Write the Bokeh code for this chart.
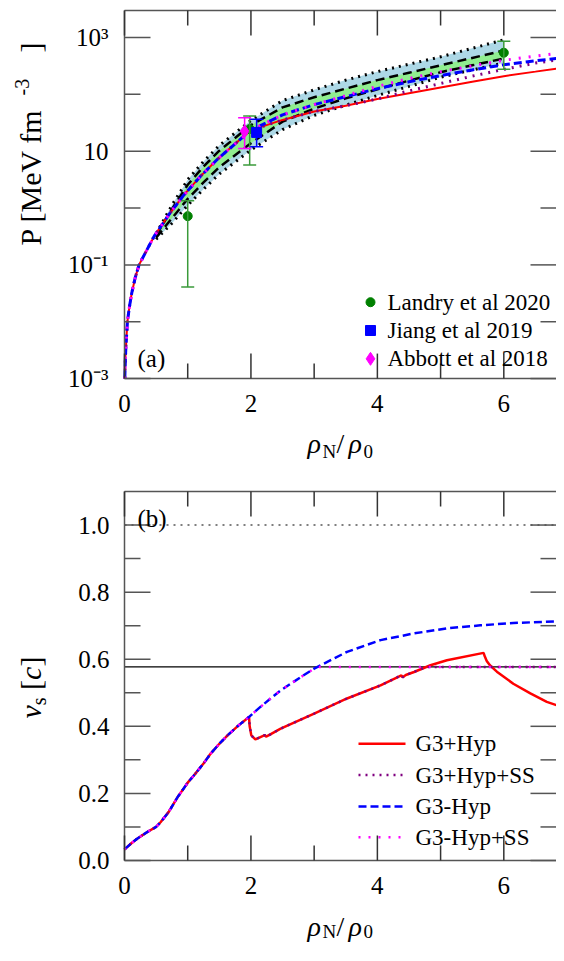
import numpy as np
from bokeh.plotting import figure
from bokeh.models import ColumnDataSource, Label, TeeHead, Whisker
from bokeh.layouts import column
from bokeh.embed import file_html
from bokeh.resources import INLINE

SERIF = "Liberation Serif"

# ---------------- panel (a): pressure vs density ----------------
rho_low = [0.005, 0.015, 0.03, 0.046, 0.08, 0.115, 0.17, 0.23, 0.35, 0.47, 0.7, 0.94, 1.2, 1.47, 1.75, 2.0]
p_low = [0.001, 0.0025, 0.005, 0.010, 0.019, 0.032, 0.060, 0.10, 0.18, 0.32, 0.76, 1.70, 3.6, 7.2, 13.5, 23.4]
rho_high = [2.5, 3.0, 3.5, 4.0, 4.5, 5.0, 5.5, 6.0, 6.5, 7.0]
p_hyp_high = [35.5, 50, 63, 83, 105, 132, 166, 209, 251, 302]
p_hyp_ss_high = [35.5, 50, 63, 83, 115, 155, 209, 275, 355, 427]
p_nohyp_high = [43.6, 66, 91, 126, 166, 214, 269, 331, 389, 447]
p_nohyp_ss_high = [43.6, 66, 95, 138, 190, 251, 316, 398, 468, 550]

# constraint bands
rho_band = [0.5, 0.75, 1.0, 1.25, 1.5, 2.0, 2.5, 3.0, 3.5, 4.0, 4.5, 5.0, 5.5, 6.0]
p_outer_hi = [0.355, 1.12, 3.16, 6.6, 12.6, 34.7, 77.6, 120, 178, 251, 339, 457, 646, 912]
p_inner_hi = [0.331, 0.955, 2.57, 5.37, 10.2, 28.8, 58.9, 89, 126, 178, 240, 324, 437, 589]
p_inner_lo = [0.302, 0.66, 1.45, 2.82, 5.25, 13.8, 33.1, 56.2, 85, 123, 174, 245, 324, 427]
p_outer_lo = [0.282, 0.54, 1.12, 2.14, 3.98, 10.5, 24.0, 42.7, 64.6, 95.5, 138, 200, 269, 355]

# observations
landry_rho = [1.0, 1.98, 6.0]
landry_p = [0.72, 24.5, 540]
landry_lo = [0.041, 5.7, 275]
landry_hi = [1.35, 41.7, 860]
jiang_rho = [2.09]
jiang_p = [21.4]
jiang_lo = [12.0]
jiang_hi = [36.3]
abbott_rho = [1.90]
abbott_p = [22.4]
abbott_lo = [11.2]
abbott_hi = [38.9]

# ---------------- panel (b): speed of sound ----------------
vs_rho_low = [0.0, 0.1, 0.2, 0.36, 0.5, 0.57, 0.7, 0.84, 1.0, 1.1, 1.25, 1.36, 1.5, 1.63, 1.8, 1.97]
vs_low = [0.033, 0.05, 0.065, 0.085, 0.100, 0.114, 0.145, 0.189, 0.232, 0.254, 0.289, 0.318, 0.348, 0.373, 0.402, 0.428]
hyp_rho = [1.98, 2.006, 2.07, 2.15, 2.2, 2.22, 2.24, 2.3, 2.47, 3.0, 3.52, 4.05, 4.38, 4.40, 4.45, 4.58]
hyp_vs = [0.40, 0.373, 0.361, 0.368, 0.372, 0.374, 0.369, 0.375, 0.393, 0.438, 0.483, 0.522, 0.552, 0.546, 0.553, 0.562]
hyp_rho_end = [4.84, 5.10, 5.68, 5.70, 5.73, 5.78, 5.89, 6.15, 6.42, 6.68, 7.0]
hyp_vs_end = [0.582, 0.597, 0.619, 0.608, 0.595, 0.582, 0.563, 0.527, 0.498, 0.473, 0.452]
hyp_ss_rho_end = [4.77, 7.0]
hyp_ss_vs_end = [0.577, 0.577]
nohyp_rho = [2.15, 2.47, 2.79, 3.0, 3.52, 4.05, 4.58, 5.1, 5.63, 6.15, 7.0]
nohyp_vs = [0.458, 0.507, 0.547, 0.572, 0.622, 0.657, 0.677, 0.692, 0.701, 0.708, 0.714]
nohyp_ss_rho_end = [3.05, 7.0]
nohyp_ss_vs_end = [0.577, 0.577]
causal_limit = 1.0
conformal_limit = 0.577

# ticks
x_major = [0, 2, 4, 6]
x_minor = [1, 3, 5]
x_labels = ["0", "2", "4", "6"]
pa_major = [0.001, 0.1, 10, 1000]
pa_minor = [0.01, 1, 100]
pa_labels = ["10\u207b\u00b3", "10\u207b\u00b9", "10", "10\u00b3"]
vb_major = [0.0, 0.2, 0.4, 0.6, 0.8, 1.0]
vb_minor = [0.1, 0.3, 0.5, 0.7, 0.9]
vb_labels = ["0.0", "0.2", "0.4", "0.6", "0.8", "1.0"]

legend_a = ["Landry et al 2020", "Jiang et al 2019", "Abbott et al 2018"]
legend_b = ["G3+Hyp", "G3+Hyp+SS", "G3-Hyp", "G3-Hyp+SS"]

# page geometry (px); each figure's frame fills its whole canvas
W = 556
FRAME_L = 124
PX_X = 440 / 6.96
X_END = (W - FRAME_L) / PX_X
PA_BOTTOM, PA_TOP = 1e-3, 2976.0
PA_DEC = 368 / (np.log10(PA_TOP) - np.log10(PA_BOTTOM))
VB_TOP = 1.1
PX_VB = 369 / VB_TOP
H1 = 478            # page 0..478
H2 = 467            # page 478..945
TICK_C = "#333333"
AXIS_C = "#555555"


def xd(px):
    return (px - FRAME_L) / PX_X


def ya(py):
    return 10 ** (3 - (py - 37) / PA_DEC)


def yb(py):
    return (860 - py) / PX_VB


def pa_py(v):
    return 37 + (3 - np.log10(v)) * PA_DEC


def vb_py(v):
    return 860 - v * PX_VB


def panel(height, y_range, log):
    p = figure(width=W, height=height, x_range=(xd(0), xd(W)), y_range=y_range,
               y_axis_type="log" if log else "linear", output_backend="svg", toolbar_location=None,
               x_axis_location=None, y_axis_location=None, min_border=0)
    p.grid.visible = False
    p.outline_line_color = None
    return p


def text(p, x, y, s, size, style="normal", angle=0, baseline="middle", align="left"):
    p.add_layout(Label(x=x, y=y, text=s, angle=angle, text_font=SERIF, text_font_style=style,
                       text_font_size=size, text_align=align, text_baseline=baseline, text_color="black"))


def xlabel(p, yconv, y_base, y_sub):
    text(p, xd(307), yconv(y_base), "\u03c1", "28px", "italic", baseline="alphabetic")
    text(p, xd(322), yconv(y_sub), "N", "19px", baseline="alphabetic")
    text(p, xd(336), yconv(y_base), "/", "28px", baseline="alphabetic")
    text(p, xd(348), yconv(y_base), "\u03c1", "28px", "italic", baseline="alphabetic")
    text(p, xd(363), yconv(y_sub), "0", "19px", baseline="alphabetic")


def frame_and_ticks(p, y0, y1, up, yt_major, yt_minor):
    # box: left, bottom, top edges
    p.segment([0, 0, 0], [y0, y0, y1], [0, X_END, X_END], [y1, y0, y1], line_color=AXIS_C, line_width=1.5)
    p.segment(x_major, [y0] * 4, x_major, [up(y0, 25)] * 4, line_color=TICK_C, line_width=1.5)
    p.segment(x_minor, [y0] * 3, x_minor, [up(y0, 15)] * 3, line_color=TICK_C, line_width=1.5)
    p.segment(x_major, [y1] * 4, x_major, [up(y1, -25)] * 4, line_color=TICK_C, line_width=1.5)
    p.segment(x_minor, [y1] * 3, x_minor, [up(y1, -15)] * 3, line_color=TICK_C, line_width=1.5)
    n, m = len(yt_major), len(yt_minor)
    p.segment([0] * n, yt_major, [26 / PX_X] * n, yt_major, line_color=AXIS_C, line_width=1.5)
    p.segment([0] * m, yt_minor, [16 / PX_X] * m, yt_minor, line_color=AXIS_C, line_width=1.5)
    p.segment([X_END - 26 / PX_X] * n, yt_major, [X_END] * n, yt_major, line_color=AXIS_C, line_width=1.5)
    p.segment([X_END - 16 / PX_X] * m, yt_minor, [X_END] * m, yt_minor, line_color=AXIS_C, line_width=1.5)


# ---------------- figure (a) ----------------
p1 = panel(H1, (ya(H1), ya(0)), True)

band = ColumnDataSource(dict(x=rho_band, ohi=p_outer_hi, ihi=p_inner_hi, ilo=p_inner_lo, olo=p_outer_lo))
p1.varea(x="x", y1="olo", y2="ohi", source=band, fill_color="#add8e6")
p1.varea(x="x", y1="ilo", y2="ihi", source=band, fill_color="#90ee90")
for col in ("ohi", "olo"):
    p1.line("x", col, source=band, line_color="black", line_width=3, line_dash="2 5")
for col in ("ihi", "ilo"):
    p1.line("x", col, source=band, line_color="black", line_width=2.5, line_dash="9 5")

p1.line(rho_low + rho_high, p_low + p_hyp_high, line_color="red", line_width=2)
p1.line(rho_low + rho_high, p_low + p_hyp_ss_high, line_color="purple", line_width=3, line_dash="2 6")
p1.line(rho_low + rho_high, p_low + p_nohyp_high, line_color="blue", line_width=3, line_dash="8 4")
p1.line(rho_low + rho_high, p_low + p_nohyp_ss_high, line_color="magenta", line_width=3, line_dash="2 8")

obs = [(landry_rho, landry_p, landry_lo, landry_hi, "circle", "#008000", "#3a9a3a", 9),
       (jiang_rho, jiang_p, jiang_lo, jiang_hi, "square", "blue", "blue", 10),
       (abbott_rho, abbott_p, abbott_lo, abbott_hi, "diamond", "magenta", "magenta", 13)]
legend_rows_a = [301.7, 330, 358.3]
for (xs, ys, lo, hi, mk, col, ecol, size), name, row_py in zip(obs, legend_a, legend_rows_a):
    src = ColumnDataSource(dict(x=xs, y=ys, lo=lo, hi=hi))
    p1.add_layout(Whisker(source=src, base="x", upper="hi", lower="lo", line_color=ecol, line_width=1.5,
                          upper_head=TeeHead(size=13, line_color=ecol, line_width=1.5),
                          lower_head=TeeHead(size=13, line_color=ecol, line_width=1.5), level="glyph"))
    p1.scatter("x", "y", source=src, marker=mk, size=size, fill_color=col, line_color=col)
    # legend entry
    p1.scatter([xd(370)], [ya(row_py)], marker=mk, size=size, fill_color=col, line_color=col)
    text(p1, xd(387), ya(row_py), name, "23px")

frame_and_ticks(p1, PA_BOTTOM, PA_TOP, lambda y, px: y * 10 ** (px / PA_DEC), pa_major, pa_minor)

text(p1, xd(137), ya(358), "(a)", "25px")
for v, lab in zip(pa_major, pa_labels):
    text(p1, xd(108), v, lab, "25px", align="right")
for v, lab in zip(x_major, x_labels):
    text(p1, v, ya(403), lab, "25px", align="center")
text(p1, xd(30), ya(245), "P [MeV fm", "30px", angle=np.pi / 2)
text(p1, xd(21), ya(95), "-3", "20px", angle=np.pi / 2)
text(p1, xd(30), ya(52), "]", "30px", angle=np.pi / 2)
xlabel(p1, ya, 443, 451)

# ---------------- figure (b) ----------------
p2 = panel(H2, (yb(478 + H2), yb(478)), False)

p2.segment([0], [causal_limit], [X_END], [causal_limit], line_color=AXIS_C, line_width=1.5, line_dash="2 5")
p2.segment([0], [conformal_limit], [X_END], [conformal_limit], line_color="black", line_width=1.2)

styles_b = [("red", None), ("purple", "2 5"), ("blue", "8 4"), ("magenta", "2 8")]
curves_b = [(vs_rho_low + hyp_rho + hyp_rho_end, vs_low + hyp_vs + hyp_vs_end),
            (vs_rho_low + hyp_rho + hyp_ss_rho_end, vs_low + hyp_vs + hyp_ss_vs_end),
            (vs_rho_low + nohyp_rho, vs_low + nohyp_vs),
            (vs_rho_low + nohyp_rho[:4] + nohyp_ss_rho_end, vs_low + nohyp_vs[:4] + nohyp_ss_vs_end)]
legend_rows_b = [743.3, 774.5, 806, 836.7]
for (xs, ys), (col, dash), name, row_py in zip(curves_b, styles_b, legend_b, legend_rows_b):
    kw = dict(line_color=col, line_width=2.5)
    if dash:
        kw["line_dash"] = dash
    p2.line(xs, ys, **kw)
    p2.line([xd(358), xd(405)], [yb(row_py)] * 2, **kw)
    text(p2, xd(415), yb(row_py), name, "23px")

frame_and_ticks(p2, 0, VB_TOP, lambda y, px: y + px / PX_VB, vb_major, vb_minor)

text(p2, xd(137), yb(518), "(b)", "25px")
for v, lab in zip(vb_major, vb_labels):
    text(p2, xd(109), v, lab, "25px", align="right")
for v, lab in zip(x_major, x_labels):
    text(p2, v, yb(885), lab, "25px", align="center")
text(p2, xd(30), yb(718), "v", "30px", "italic", np.pi / 2)
text(p2, xd(38), yb(704.7), "s", "20px", angle=np.pi / 2)
text(p2, xd(30), yb(689.4), "[", "30px", angle=np.pi / 2)
text(p2, xd(30), yb(679.4), "c", "30px", "italic", np.pi / 2)
text(p2, xd(30), yb(666.1), "]", "30px", angle=np.pi / 2)
xlabel(p2, yb, 926, 931)

layout = column(p1, p2, spacing=0)
open("out.html", "w").write(file_html(layout, INLINE))
